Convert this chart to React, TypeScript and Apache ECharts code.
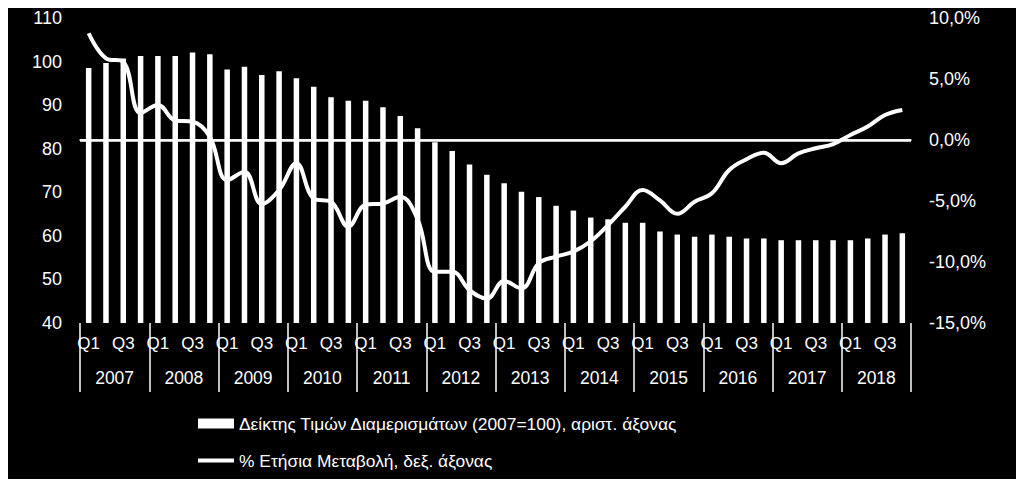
import React, { useEffect, useRef } from "react";
import * as echarts from "echarts";

const years = ["2007", "2008", "2009", "2010", "2011", "2012", "2013", "2014", "2015", "2016", "2017", "2018"];
const quarters = ["Q1", "Q2", "Q3", "Q4"];
const categories: string[] = years.flatMap((y) => quarters.map((q) => `${q} ${y}`));

const priceIndex = [
  98.5, 99.7, 100.7, 101.3,
  101.3, 101.3, 102.1, 101.7,
  98.2, 98.8, 96.9, 97.8,
  96.2, 94.2, 91.8, 91.0,
  91.0, 89.5, 87.5, 84.7,
  81.5, 79.5, 76.4, 74.0,
  72.1, 70.1, 68.9, 66.9,
  65.8, 64.2, 63.8, 63.0,
  63.0, 61.0, 60.3, 59.8,
  60.3, 59.8, 59.4, 59.4,
  59.0, 59.0, 59.0, 59.0,
  59.0, 59.4, 60.3, 60.6,
];

const annualChange = [
  8.75, 6.7, 6.4, 2.2,
  2.87, 1.6, 1.5, 0.27,
  -3.3, -2.6, -5.25, -4.1,
  -1.9, -4.8, -5.06, -7.1,
  -5.3, -5.2, -4.65, -6.5,
  -10.8, -10.8, -12.3, -13.0,
  -11.56, -12.16, -10.1, -9.56,
  -9.15, -8.3, -6.97, -5.47,
  -4.1, -4.95, -6.05, -5.06,
  -4.37, -2.46, -1.58, -1.04,
  -1.9, -1.1, -0.68, -0.33,
  0.41, 1.1, 2.05, 2.46,
];

const leftTicks = { min: 40, max: 110, interval: 10 };
const rightTicks = { min: -15, max: 10, interval: 5 };

const barName = "Δείκτης Τιμών Διαμερισμάτων (2007=100), αριστ. άξονας";
const lineName = "% Ετήσια Μεταβολή, δεξ. άξονας";

const FONT = "Liberation Sans, Arial, sans-serif";

export default function App() {
  const ref = useRef<HTMLDivElement>(null);
  useEffect(() => {
    if (!ref.current) return;
    const chart = echarts.init(ref.current, undefined, { renderer: "svg" });
    chart.setOption({
      animation: false,
      backgroundColor: "#000000",
      textStyle: { fontFamily: FONT, color: "#ffffff" },
      grid: { left: 80, right: 113, top: 18, bottom: 164, containLabel: false },
      legend: {
        left: 191,
        top: 410,
        orient: "vertical",
        itemGap: 20,
        itemWidth: 36,
        itemHeight: 10,
        textStyle: { color: "#ffffff", fontSize: 17.4, fontFamily: FONT },
        data: [
          { name: barName, icon: "rect" },
          { name: lineName, itemStyle: { opacity: 0 }, lineStyle: { width: 4, color: "#ffffff" } },
        ],
      },
      xAxis: [
        {
          type: "category",
          data: categories,
          position: "bottom",
          axisLine: { show: true, lineStyle: { color: "#ffffff", width: 1.5 } },
          axisTick: { show: false },
          axisLabel: {
            interval: 0,
            color: "#ffffff",
            fontSize: 17,
            fontFamily: FONT,
            margin: 12,
            formatter: (v: string) => {
              const q = v.split(" ")[0];
              return q === "Q1" || q === "Q3" ? q : "";
            },
          },
          splitLine: { show: false },
        },
        {
          type: "category",
          data: years,
          position: "bottom",
          offset: 0,
          axisLine: { show: false },
          axisTick: { show: true, length: 69, lineStyle: { color: "#ffffff", width: 1.5 } },
          axisLabel: { color: "#ffffff", fontSize: 17.5, fontFamily: FONT, margin: 46 },
          splitLine: { show: false },
        },
      ],
      yAxis: [
        {
          type: "value",
          min: leftTicks.min,
          max: leftTicks.max,
          interval: leftTicks.interval,
          position: "left",
          axisLine: { show: false },
          axisTick: { show: false },
          splitLine: { show: false },
          axisLabel: { color: "#ffffff", fontSize: 18, fontFamily: FONT, margin: 18 },
        },
        {
          type: "value",
          min: rightTicks.min,
          max: rightTicks.max,
          interval: rightTicks.interval,
          position: "right",
          axisLine: { show: false },
          axisTick: { show: false },
          splitLine: { show: false },
          axisLabel: {
            color: "#ffffff",
            fontSize: 18,
            fontFamily: FONT,
            margin: 18,
            formatter: (v: number) => v.toFixed(1).replace(".", ",") + "%",
          },
        },
      ],
      series: [
        {
          name: barName,
          type: "bar",
          xAxisIndex: 0,
          yAxisIndex: 0,
          data: priceIndex,
          barWidth: 5.5,
          itemStyle: { color: "#ffffff" },
        },
        {
          name: lineName,
          type: "line",
          xAxisIndex: 0,
          yAxisIndex: 1,
          data: annualChange,
          smooth: 0.4,
          symbol: "none",
          showSymbol: false,
          lineStyle: { color: "#ffffff", width: 4 },
          itemStyle: { color: "#ffffff" },
          z: 5,
          markLine: {
            silent: true,
            symbol: ["none", "none"],
            label: { show: false },
            lineStyle: { color: "#ffffff", width: 2.5, type: "solid" },
            data: [{ yAxis: 0 }],
          },
        },
      ],
    });
    return () => chart.dispose();
  }, []);
  return <div ref={ref} style={{ width: 1024, height: 487, margin: -8 }} />;
}
